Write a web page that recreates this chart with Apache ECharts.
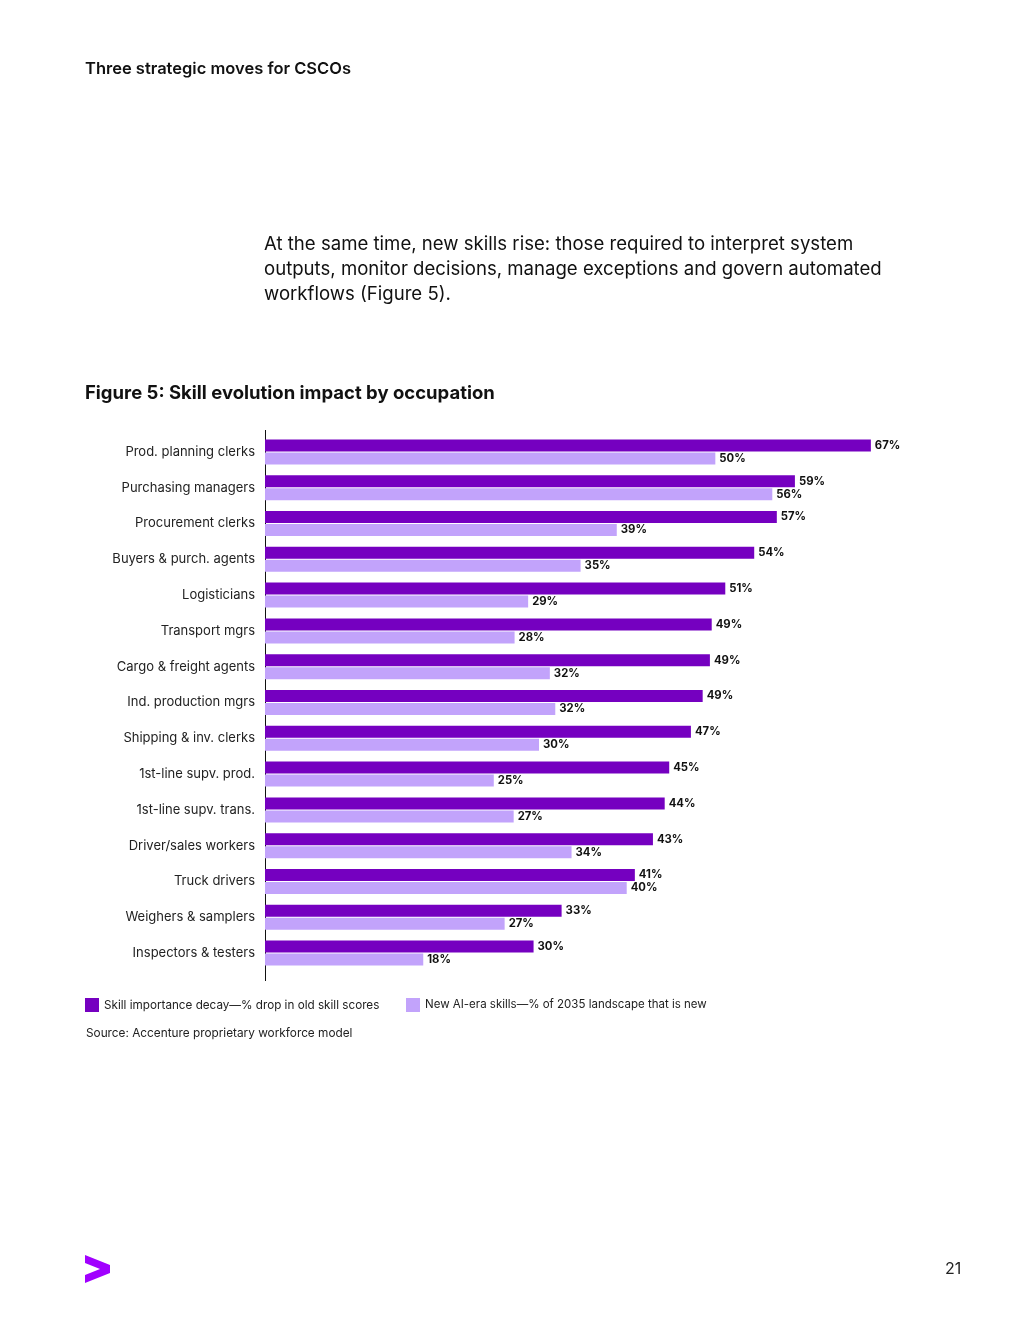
<!DOCTYPE html>
<html>
<head>
<meta charset="utf-8">
<script src="https://cdn.jsdelivr.net/npm/echarts@6/dist/echarts.min.js"></script>
<style>
  html, body { margin: 0; padding: 0; background: #fff; }
  #chart { width: 1020px; height: 1320px; }
</style>
</head>
<body>
<div id="chart"></div>
<script>
var occupations = [
  'Prod. planning clerks', 'Purchasing managers', 'Procurement clerks',
  'Buyers & purch. agents', 'Logisticians', 'Transport mgrs',
  'Cargo & freight agents', 'Ind. production mgrs', 'Shipping & inv. clerks',
  '1st-line supv. prod.', '1st-line supv. trans.', 'Driver/sales workers',
  'Truck drivers', 'Weighers & samplers', 'Inspectors & testers'
]
// bar lengths
var decayValues = [67, 58.6, 56.6, 54.1, 50.9, 49.4, 49.2, 48.4, 47.1, 44.7, 44.2, 42.9, 40.9, 32.8, 29.7]
var newSkillValues = [49.8, 56.1, 38.9, 34.9, 29.1, 27.6, 31.5, 32.1, 30.3, 25.3, 27.5, 33.9, 40, 26.5, 17.5]
// printed labels
var decayLabels = [67, 59, 57, 54, 51, 49, 49, 49, 47, 45, 44, 43, 41, 33, 30]
var newSkillLabels = [50, 56, 39, 35, 29, 28, 32, 32, 30, 25, 27, 34, 40, 27, 18]
var seriesNames = [
  'Skill importance decay\u2014% drop in old skill scores',
  'New AI-era skills\u2014% of 2035 landscape that is new'
]

var FONT = 'Inter, Roboto, "Noto Sans", sans-serif'
var DARK = '#7500c0'
var LIGHT = '#c2a3fb'

var chart = echarts.init(document.getElementById('chart'))

function makeLabel (labels) {
  return {
    show: true,
    position: 'right',
    distance: 4,
    formatter: function (p) { return labels[p.dataIndex] + '%' },
    fontFamily: FONT,
    fontSize: 11.3,
    fontWeight: 'bold',
    color: '#111'
  }
}

function titleText (text, left, top, style) {
  return {
    text: text, left: left, top: top, padding: 0,
    textStyle: Object.assign({ color: '#111', fontFamily: FONT, fontWeight: 'normal' }, style)
  }
}

chart.setOption({
  backgroundColor: '#fff',
  animation: false,
  textStyle: { fontFamily: FONT },
  title: [
    titleText('Three strategic moves for CSCOs', 85, 61, { fontSize: 16.5, fontWeight: 600 }),
    titleText('At the same time, new skills rise: those required to interpret system\noutputs, monitor decisions, manage exceptions and govern automated\nworkflows (Figure 5).',
      264, 232, { fontSize: 18.6, lineHeight: 25 }),
    titleText('Figure 5: Skill evolution impact by occupation', 85, 384, { fontSize: 18.5, fontWeight: 'bold' }),
    titleText('Source: Accenture proprietary workforce model', 86, 1027, { fontSize: 11.8, color: '#222' }),
    titleText('21', 945, 1261, { fontSize: 16, color: '#222' })
  ],
  legend: [
    {
      data: [seriesNames[0]],
      left: 85, top: 998,
      icon: 'rect', itemWidth: 14, itemHeight: 14, itemGap: 6,
      textStyle: { fontSize: 11.7, color: '#222', fontFamily: FONT },
      padding: 0
    },
    {
      data: [seriesNames[1]],
      left: 406, top: 998,
      icon: 'rect', itemWidth: 14, itemHeight: 14, itemGap: 6,
      textStyle: { fontSize: 11.5, color: '#222', fontFamily: FONT },
      padding: 0
    }
  ],
  grid: { left: 265, top: 434, width: 633, height: 537, containLabel: false },
  xAxis: {
    type: 'value',
    min: 0, max: 70,
    show: false
  },
  yAxis: {
    type: 'category',
    data: occupations,
    inverse: true,
    axisLine: { show: false },
    axisTick: { show: false },
    axisLabel: { fontSize: 13, color: '#222', margin: 10, fontFamily: FONT }
  },
  series: [
    {
      name: seriesNames[0],
      type: 'bar',
      data: decayValues,
      barWidth: 12,
      barGap: '8%',
      itemStyle: { color: DARK },
      label: makeLabel(decayLabels)
    },
    {
      name: seriesNames[1],
      type: 'bar',
      data: newSkillValues,
      barWidth: 12,
      barGap: '8%',
      itemStyle: { color: LIGHT },
      label: makeLabel(newSkillLabels)
    }
  ],
  graphic: [
    {
      type: 'line',
      shape: { x1: 265.5, y1: 430, x2: 265.5, y2: 981 },
      style: { stroke: '#111', lineWidth: 1 }
    },
    {
      type: 'polygon',
      shape: {
        points: [[85, 1255], [110, 1265], [110, 1273], [85, 1283], [85, 1275], [100, 1269], [85, 1263]]
      },
      style: { fill: '#a100ff' }
    }
  ]
})

window.onresize = function () {
  chart.resize()
}
</script>
</body>
</html>
